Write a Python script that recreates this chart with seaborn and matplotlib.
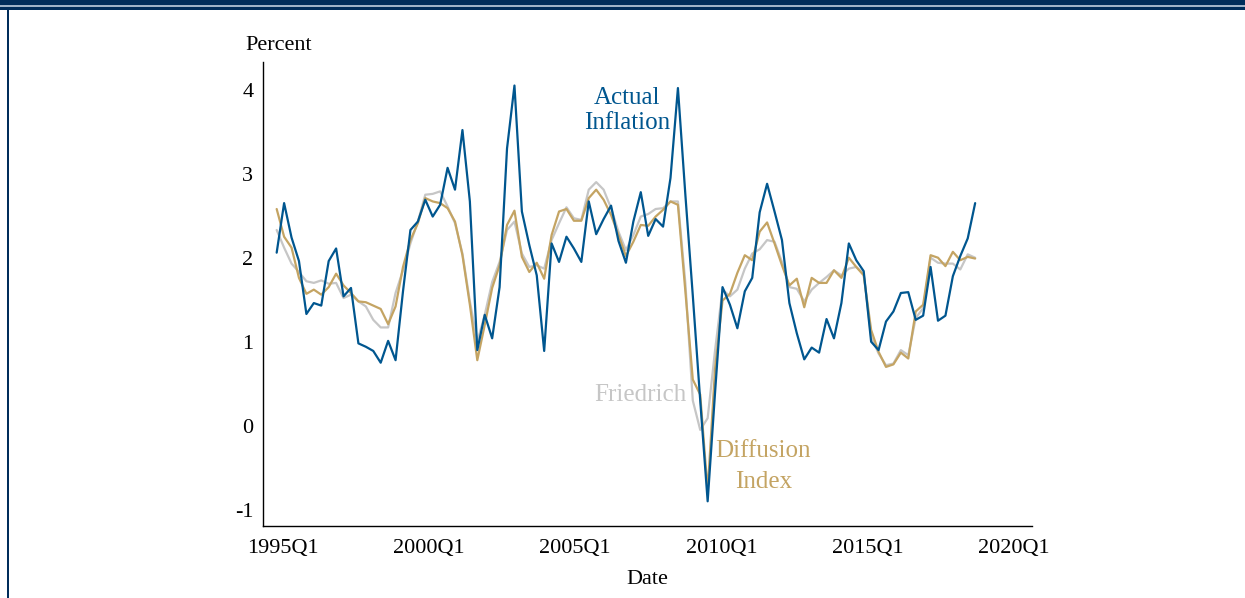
import numpy as np
import pandas as pd
import matplotlib
matplotlib.use("Agg")
import matplotlib.pyplot as plt
from matplotlib.patches import Rectangle
import seaborn as sns

# quarterly series, 1995Q1 onwards
actual = [2.06, 2.65, 2.24, 1.96, 1.33, 1.46, 1.43, 1.96, 2.11, 1.54,
          1.64, 0.98, 0.94, 0.89, 0.75, 1.01, 0.78, 1.60, 2.33, 2.43,
          2.69, 2.49, 2.63, 3.07, 2.81, 3.52, 2.67, 0.90, 1.32, 1.04,
          1.65, 3.30, 4.05, 2.55, 2.15, 1.79, 0.89, 2.17, 1.95, 2.25,
          2.11, 1.95, 2.67, 2.28, 2.46, 2.62, 2.20, 1.94, 2.43, 2.78,
          2.26, 2.46, 2.37, 2.95, 4.02, 2.75, 1.55, 0.30, -0.90, 0.40,
          1.65, 1.44, 1.16, 1.60, 1.76, 2.54, 2.88, 2.55, 2.21, 1.46,
          1.10, 0.79, 0.93, 0.87, 1.27, 1.04, 1.46, 2.17, 1.97, 1.84,
          1.00, 0.90, 1.24, 1.36, 1.58, 1.59, 1.26, 1.31, 1.89, 1.25,
          1.31, 1.78, 2.02, 2.23, 2.65]

diffusion = [2.58, 2.25, 2.12, 1.76, 1.57, 1.62, 1.56, 1.65, 1.81, 1.67,
             1.58, 1.48, 1.47, 1.43, 1.39, 1.21, 1.42, 1.89, 2.21, 2.41,
             2.71, 2.67, 2.65, 2.59, 2.43, 2.03, 1.44, 0.78, 1.20, 1.64,
             1.91, 2.39, 2.56, 2.01, 1.83, 1.94, 1.75, 2.27, 2.55, 2.58,
             2.44, 2.44, 2.71, 2.81, 2.69, 2.51, 2.27, 2.02, 2.19, 2.39,
             2.38, 2.49, 2.57, 2.67, 2.63, 1.60, 0.55, 0.37, -0.78, 0.68,
             1.49, 1.57, 1.82, 2.03, 1.97, 2.31, 2.42, 2.17, 1.91, 1.67,
             1.75, 1.41, 1.76, 1.70, 1.70, 1.85, 1.76, 2.00, 1.89, 1.79,
             1.14, 0.88, 0.70, 0.73, 0.87, 0.80, 1.36, 1.44, 2.03, 2.00,
             1.90, 2.07, 1.97, 2.01, 1.99]

friedrich = [2.33, 2.12, 1.93, 1.83, 1.72, 1.70, 1.73, 1.69, 1.70, 1.52,
             1.56, 1.48, 1.42, 1.26, 1.17, 1.17, 1.58, 1.85, 2.17, 2.43,
             2.75, 2.76, 2.79, 2.61, 2.41, 2.05, 1.48, 1.00, 1.32, 1.71,
             1.95, 2.33, 2.43, 2.05, 1.89, 1.91, 1.87, 2.21, 2.41, 2.60,
             2.47, 2.45, 2.81, 2.90, 2.81, 2.59, 2.31, 2.09, 2.27, 2.49,
             2.52, 2.58, 2.59, 2.67, 2.67, 1.70, 0.30, -0.05, 0.09, 0.90,
             1.62, 1.54, 1.62, 1.87, 2.05, 2.10, 2.21, 2.19, 1.95, 1.65,
             1.63, 1.48, 1.62, 1.70, 1.77, 1.85, 1.79, 1.87, 1.89, 1.81,
             1.06, 0.86, 0.72, 0.74, 0.90, 0.84, 1.28, 1.40, 2.00, 1.94,
             1.93, 1.93, 1.86, 2.04, 2.00]

tick_labels = ["1995Q1", "2000Q1", "2005Q1", "2010Q1", "2015Q1", "2020Q1"]
y_ticks = [-1, 0, 1, 2, 3, 4]

navy = "#002d5b"
c_actual = "#00568f"
c_diff = "#c4a463"
c_fried = "#c6c6c6"

sns.set_style("white")
plt.rcParams["font.family"] = ["Liberation Serif", "DejaVu Serif"]
plt.rcParams["axes.unicode_minus"] = False
plt.rcParams["text.color"] = "black"
plt.rcParams["axes.labelcolor"] = "black"
plt.rcParams["xtick.color"] = "black"
plt.rcParams["ytick.color"] = "black"

q = np.arange(len(actual))
df = pd.DataFrame({
    "q": np.concatenate([q, q, q]),
    "value": friedrich + diffusion + actual,
    "series": ["Friedrich"] * len(q) + ["Diffusion Index"] * len(q) + ["Actual Inflation"] * len(q),
})

fig = plt.figure(figsize=(12.45, 5.98), dpi=100)
ax = fig.add_axes([263 / 1245, 1 - 526 / 598, (1032 - 263) / 1245, (526 - 62) / 598])

sns.lineplot(data=df, x="q", y="value", hue="series",
             palette={"Friedrich": c_fried, "Diffusion Index": c_diff, "Actual Inflation": c_actual},
             linewidth=1.6, legend=False, ax=ax)

ax.set_xlim(-1.84, 101.65)
ax.set_ylim(-1.194, 4.33)
ax.set_xticks(np.linspace(0.85, 99.2, len(tick_labels)))
ax.set_xticklabels(tick_labels, fontsize=16)
ax.set_yticks(y_ticks)
ax.set_yticklabels([str(v) for v in y_ticks], fontsize=16)
ax.tick_params(length=0, pad=7)
ax.tick_params(axis="x", pad=9)
for s in ["top", "right"]:
    ax.spines[s].set_visible(False)
for s in ["left", "bottom"]:
    ax.spines[s].set_color("black")
    ax.spines[s].set_linewidth(1.0)

ax.set_xlabel("Date", fontsize=16, labelpad=9)
ax.set_ylabel("")
fig.text(279 / 1245, 1 - 45 / 598, "Percent", fontsize=16, ha="center", va="center")

# series labels
ax.text(47.1, 3.90, "Actual", color=c_actual, fontsize=18, ha="center", va="center")
ax.text(47.2, 3.605, "Inflation", color=c_actual, fontsize=18, ha="center", va="center")
ax.text(48.96, 0.365, "Friedrich", color=c_fried, fontsize=18, ha="center", va="center")
ax.text(65.5, -0.30, "Diffusion", color=c_diff, fontsize=18, ha="center", va="center")
ax.text(65.5, -0.67, "Index", color=c_diff, fontsize=18, ha="center", va="center")

# page frame
H = 598.0
fig.add_artist(Rectangle((0, 1 - 5.5 / H), 1, 5.5 / H, transform=fig.transFigure, color=navy, lw=0))
fig.add_artist(Rectangle((0, 1 - 7 / H), 1, 1.5 / H, transform=fig.transFigure, color="#9fb3c8", lw=0))
fig.add_artist(Rectangle((0, 1 - 9.5 / H), 1, 2.5 / H, transform=fig.transFigure, color=navy, lw=0))
fig.add_artist(Rectangle((6.5 / 1245, 0), 2.5 / 1245, 1 - 9.5 / H, transform=fig.transFigure, color=navy, lw=0))

fig.savefig("out.png", dpi=100)
